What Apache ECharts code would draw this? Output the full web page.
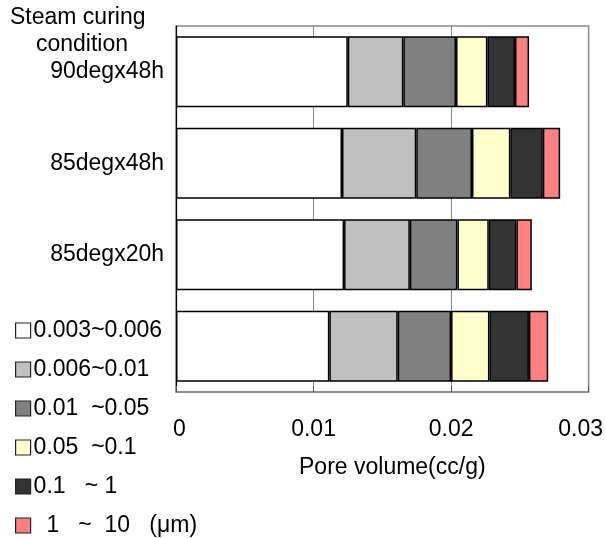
<!DOCTYPE html>
<html>
<head>
<meta charset="utf-8">
<script src="https://cdn.jsdelivr.net/npm/echarts@6/dist/echarts.min.js"></script>
<style>html,body{margin:0;padding:0;background:#fff;}#c{width:606px;height:538px;}</style>
</head>
<body>
<div id="c"></div>
<script>
const categories = ['90degx48h', '85degx48h', '85degx20h', ''];
const seriesNames = ['0.003~0.006', '0.006~0.01', '0.01  ~0.05', '0.05  ~0.1', '0.1   ~ 1', '  1   ~  10   (\u03bcm)'];
const s1 = [0.01249, 0.01207, 0.01222, 0.01115];
const s2 = [0.00404, 0.00540, 0.00478, 0.00497];
const s3 = [0.00383, 0.00405, 0.00346, 0.00388];
const s4 = [0.00228, 0.00279, 0.00228, 0.00279];
const s5 = [0.00201, 0.00236, 0.00201, 0.00287];
const s6 = [0.00102, 0.00126, 0.00112, 0.00140];
const xTicks = [0, 0.01, 0.02, 0.03];
const colors = ['#FFFFFF', '#C0C0C0', '#808080', '#FFFFCC', '#333333', '#FF8080'];
const values = [s1, s2, s3, s4, s5, s6];

const FONT = '"Liberation Sans", Arial, sans-serif';
const FS = 23;

const chart = echarts.init(document.getElementById('c'), null, {renderer: 'canvas'});
chart.setOption({
  animation: false,
  backgroundColor: '#fff',
  textStyle: {fontFamily: FONT},
  grid: {left: 176, right: 17, top: 26, bottom: 146, show: true, borderColor: '#888', borderWidth: 1.5, containLabel: false},
  legend: {
    orient: 'vertical', left: 15, top: 319, height: 240, padding: 0, itemWidth: 15, itemHeight: 15, itemGap: 16,
    icon: 'rect',
    itemStyle: {borderColor: '#222', borderWidth: 1.2},
    textStyle: {fontSize: FS, color: '#000', fontFamily: FONT, padding: [0, 0, 0, -2]},
    data: seriesNames
  },
  graphic: [{
    type: 'text', left: 10, top: 6,
    style: {text: 'Steam curing', font: FS + 'px ' + FONT, fill: '#000'}
  }, {
    type: 'text', left: 36, top: 33,
    style: {text: 'condition', font: FS + 'px ' + FONT, fill: '#000'}
  }],
  xAxis: {
    type: 'value', min: xTicks[0], max: xTicks[xTicks.length - 1], interval: 0.01,
    axisLine: {show: true, lineStyle: {color: '#888', width: 1.5}},
    axisTick: {show: true, inside: true, length: 6, lineStyle: {color: '#555'}},
    splitLine: {show: true, lineStyle: {color: '#888', width: 1}},
    axisLabel: {
      margin: 26, fontSize: FS, color: '#000', fontFamily: FONT,
      formatter: function (v) {
        if (v === 0) return '{z|0}';
        const t = v.toFixed(2);
        if (Math.abs(v - 0.03) < 1e-9) return '{r|' + t + '}';
        return t;
      },
      rich: {
        z: {fontSize: FS, padding: [0, 0, 0, 7], fontFamily: FONT},
        r: {fontSize: FS, padding: [0, 16, 0, 0], fontFamily: FONT}
      }
    },
    name: 'Pore volume(cc/g)', nameLocation: 'middle', nameGap: 64,
    nameTextStyle: {fontSize: FS, color: '#000', fontFamily: FONT, padding: [0, 0, 0, 20]}
  },
  yAxis: {
    type: 'category', inverse: true,
    data: categories,
    axisLine: {show: true, lineStyle: {color: '#000', width: 1.2}},
    axisTick: {show: false},
    splitLine: {show: false},
    axisLabel: {margin: 12, fontSize: FS, color: '#000', fontFamily: FONT}
  },
  series: seriesNames.map(function (n, i) {
    return {
      name: n, type: 'bar', stack: 'total', barWidth: 71,
      itemStyle: {color: colors[i], borderColor: '#000', borderWidth: 1.5},
      data: values[i]
    };
  })
});
</script>
</body>
</html>
